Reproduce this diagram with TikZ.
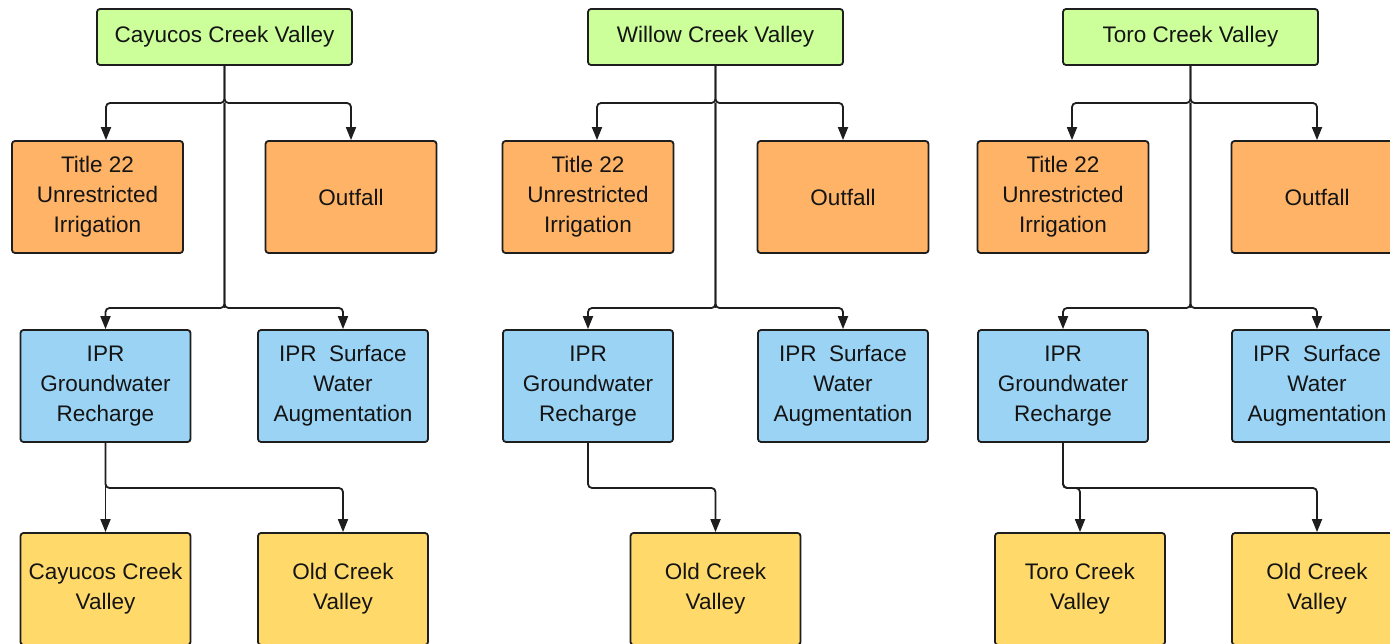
\documentclass[tikz,border=0pt]{standalone}
\usepackage{fontspec}
\setmainfont{Liberation Sans}
\usetikzlibrary{arrows.meta}
\definecolor{cgreen}{HTML}{CCFF99}
\definecolor{corange}{HTML}{FFB366}
\definecolor{cblue}{HTML}{9BD3F4}
\definecolor{cyellow}{HTML}{FFDA6B}
\definecolor{cline}{HTML}{1E1E1E}
\tikzset{
  box/.style={draw=cline, line width=1.8pt, rounded corners=3pt, align=center,
    font=\fontsize{22.5}{30}\selectfont, text=black!92, inner sep=0pt},
  topbox/.style={box, fill=cgreen, minimum width=255pt, minimum height=56pt},
  obox/.style={box, fill=corange, minimum width=171pt, minimum height=112pt},
  bbox/.style={box, fill=cblue, minimum width=170pt, minimum height=112pt},
  ybox/.style={box, fill=cyellow, minimum width=170pt, minimum height=112pt},
  conn/.style={draw=cline, line width=1.8pt, rounded corners=4pt,
    -{Triangle[length=13pt,width=10pt]}},
  trunk/.style={draw=cline, line width=1.8pt}
}
\begin{document}
\begin{tikzpicture}[x=1pt,y=-1pt]
\fill[white] (0,0) rectangle (1390,644);
\clip (0,0) rectangle (1390,644);
\useasboundingbox (0,0) rectangle (1390,644);

% ---------- Group 1 ----------
\node[topbox] (a0) at (224.5,37) {Cayucos Creek Valley};
\node[obox] (a1) at (97.5,197) {Title 22\\Unrestricted\\Irrigation};
\node[obox] (a2) at (351,197) {Outfall};
\node[bbox] (a3) at (105.5,386) {IPR\\Groundwater\\Recharge};
\node[bbox] (a4) at (343,386) {IPR~ Surface\\Water\\Augmentation};
\node[ybox] (a5) at (105.5,589) {Cayucos Creek\\Valley};
\node[ybox] (a6) at (343,589) {Old Creek\\Valley};
\coordinate (aj1) at (224.5,103);
\coordinate (aj2) at (224.5,308);
\coordinate (aj3) at (105.5,488);
\draw[conn] (a0.south) -- (aj1) -| ([xshift=8.5pt]a1.north);
\draw[conn] (a0.south) -- (aj1) -| (a2.north);
\draw[trunk] (aj1) -- (aj2);
\draw[conn] (aj1) -- (aj2) -| (a3.north);
\draw[conn] (aj1) -- (aj2) -| (a4.north);
\draw[conn] (a3.south) -- (a5.north);
\draw[conn] (a3.south) -- (aj3) -| (a6.north);

% ---------- Group 2 ----------
\node[topbox] (b0) at (715.5,37) {Willow Creek Valley};
\node[obox] (b1) at (588,197) {Title 22\\Unrestricted\\Irrigation};
\node[obox] (b2) at (843,197) {Outfall};
\node[bbox] (b3) at (588,386) {IPR\\Groundwater\\Recharge};
\node[bbox] (b4) at (843,386) {IPR~ Surface\\Water\\Augmentation};
\node[ybox] (b6) at (715.5,589) {Old Creek\\Valley};
\coordinate (bj1) at (715.5,103);
\coordinate (bj2) at (715.5,308);
\coordinate (bj3) at (588,488);
\draw[conn] (b0.south) -- (bj1) -| ([xshift=9pt]b1.north);
\draw[conn] (b0.south) -- (bj1) -| (b2.north);
\draw[trunk] (bj1) -- (bj2);
\draw[conn] (bj1) -- (bj2) -| (b3.north);
\draw[conn] (bj1) -- (bj2) -| (b4.north);
\draw[conn] (b3.south) -- (bj3) -| (b6.north);

% ---------- Group 3 ----------
\node[topbox] (c0) at (1190.5,37) {Toro Creek Valley};
\node[obox] (c1) at (1063,197) {Title 22\\Unrestricted\\Irrigation};
\node[obox] (c2) at (1317,197) {Outfall};
\node[bbox] (c3) at (1063,386) {IPR\\Groundwater\\Recharge};
\node[bbox] (c4) at (1317,386) {IPR~ Surface\\Water\\Augmentation};
\node[ybox] (c5) at (1080,589) {Toro Creek\\Valley};
\node[ybox] (c6) at (1317,589) {Old Creek\\Valley};
\coordinate (cj1) at (1190.5,103);
\coordinate (cj2) at (1190.5,308);
\coordinate (cj3) at (1063,488);
\draw[conn] (c0.south) -- (cj1) -| ([xshift=9pt]c1.north);
\draw[conn] (c0.south) -- (cj1) -| (c2.north);
\draw[trunk] (cj1) -- (cj2);
\draw[conn] (cj1) -- (cj2) -| (c3.north);
\draw[conn] (cj1) -- (cj2) -| (c4.north);
\draw[conn] (c3.south) -- (cj3) -| (c5.north);
\draw[conn] (c3.south) -- (cj3) -| (c6.north);
\end{tikzpicture}
\end{document}
